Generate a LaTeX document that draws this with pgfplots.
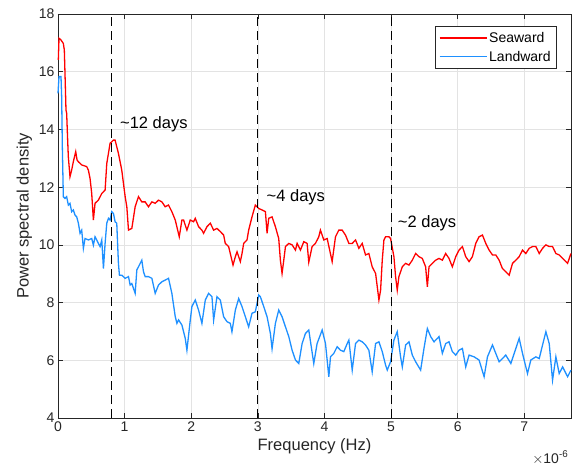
\documentclass[border=0pt]{standalone}
\usepackage{fontspec}
\setmainfont{Liberation Sans}
\usepackage{pgfplots}
\pgfplotsset{compat=1.18}
\definecolor{seaward}{RGB}{255,0,0}
\definecolor{landward}{RGB}{30,144,255}
\definecolor{axgray}{RGB}{38,38,38}

\begin{document}
\begin{tikzpicture}
\path[use as bounding box] (-58pt,-56pt) rectangle (514pt,418pt);
\begin{axis}[
    width=513pt, height=404pt, scale only axis,
    xmin=0, xmax=7.7, ymin=4, ymax=18,
    xtick={0,1,...,7}, ytick={4,6,...,18},
    grid=major,
    major grid style={gray!22, line width=0.6pt},
    axis line style={axgray, line width=0.7pt},
    tick style={axgray, line width=0.7pt},
    tick align=inside, major tick length=5pt,
    tick label style={font=\fontsize{14}{16}\selectfont, text=axgray},
    /pgf/number format/assume math mode=true,
    xlabel={Frequency (Hz)}, ylabel={Power spectral density},
    label style={font=\fontsize{16.5}{18}\selectfont, text=axgray},
    legend style={at={(0.9727,0.9703)}, anchor=north east, draw=axgray,
        line width=0.6pt, font=\fontsize{14}{16}\selectfont, row sep=3pt,
        inner xsep=4pt, inner ysep=4pt},
    legend cell align=left,
    legend image code/.code={\draw[#1] (0pt,0pt) -- (47pt,0pt);},
    clip=false,
]
\addplot[seaward, line width=1.3pt] coordinates {
(0.005,16.41)(0.015,17.16)(0.045,17.10)(0.080,16.98)(0.095,16.75)(0.105,15.94)(0.120,14.67)(0.130,14.56)(0.145,13.63)(0.155,13.05)(0.180,12.36)(0.205,12.59)(0.230,12.88)(0.266,13.23)(0.286,12.94)(0.306,12.88)(0.356,12.77)(0.431,12.71)(0.456,12.59)(0.481,12.30)(0.506,11.78)(0.531,10.86)(0.556,11.44)(0.606,11.55)(0.657,11.78)(0.707,11.90)(0.732,12.82)(0.782,13.52)(0.832,13.63)(0.857,13.63)(0.907,13.17)(0.957,12.59)(1.008,11.67)(1.033,11.32)(1.058,10.51)(1.108,10.57)(1.158,11.32)(1.208,11.67)(1.258,11.49)(1.308,11.49)(1.358,11.32)(1.409,11.49)(1.459,11.44)(1.509,11.55)(1.559,11.49)(1.609,11.32)(1.659,11.38)(1.709,11.15)(1.760,10.86)(1.820,10.28)(1.860,10.86)(1.885,10.86)(1.935,10.51)(1.985,10.86)(2.035,10.80)(2.060,10.92)(2.110,10.63)(2.160,10.51)(2.185,10.40)(2.236,10.63)(2.286,10.75)(2.336,10.51)(2.386,10.57)(2.436,10.46)(2.486,10.34)(2.511,10.05)(2.561,9.94)(2.586,9.70)(2.627,9.30)(2.662,9.59)(2.687,9.76)(2.737,9.42)(2.762,9.70)(2.787,10.05)(2.837,10.17)(2.862,10.51)(2.912,10.97)(2.962,11.38)(3.013,11.26)(3.063,11.21)(3.113,11.15)(3.138,10.40)(3.163,10.92)(3.213,10.97)(3.263,10.63)(3.313,10.22)(3.338,9.47)(3.363,9.01)(3.389,9.47)(3.414,9.94)(3.464,10.05)(3.514,10.00)(3.564,9.82)(3.589,10.05)(3.639,9.82)(3.689,10.11)(3.739,10.05)(3.764,9.40)(3.814,9.94)(3.864,10.05)(3.914,10.28)(3.939,10.51)(3.990,10.17)(4.040,10.22)(4.115,9.42)(4.165,10.28)(4.215,10.51)(4.265,10.51)(4.315,10.34)(4.366,10.05)(4.416,10.05)(4.466,10.17)(4.516,9.88)(4.566,10.05)(4.616,9.65)(4.666,9.70)(4.716,9.24)(4.767,9.01)(4.792,8.55)(4.817,8.09)(4.842,8.43)(4.867,9.47)(4.892,10.17)(4.917,10.28)(4.967,10.28)(4.992,10.22)(5.042,9.59)(5.067,8.90)(5.092,8.43)(5.117,8.90)(5.168,9.24)(5.218,9.36)(5.268,9.30)(5.318,9.47)(5.368,9.70)(5.418,9.59)(5.468,9.53)(5.518,9.24)(5.544,8.55)(5.569,9.24)(5.619,9.36)(5.669,9.47)(5.719,9.53)(5.769,9.47)(5.819,9.70)(5.869,9.53)(5.919,9.24)(5.970,9.59)(6.020,9.82)(6.070,9.94)(6.120,9.59)(6.170,9.42)(6.220,9.59)(6.270,10.05)(6.320,10.28)(6.371,10.34)(6.421,10.05)(6.471,9.82)(6.521,9.65)(6.571,9.65)(6.621,9.47)(6.671,9.18)(6.721,9.07)(6.772,8.95)(6.822,9.36)(6.872,9.47)(6.922,9.59)(6.972,9.82)(7.022,9.70)(7.072,9.88)(7.122,9.94)(7.173,9.94)(7.223,9.70)(7.273,9.88)(7.323,10.00)(7.373,9.94)(7.423,9.94)(7.473,9.70)(7.523,9.65)(7.574,9.53)(7.649,9.36)(7.699,9.70)
};
\addlegendentry{Seaward}
\addplot[landward, line width=1.3pt] coordinates {
(0.000,15.25)(0.015,15.83)(0.045,15.83)(0.055,15.13)(0.065,13.40)(0.080,11.67)(0.105,11.61)(0.130,11.67)(0.155,11.38)(0.180,11.44)(0.205,11.15)(0.230,11.21)(0.256,11.03)(0.281,10.97)(0.306,10.75)(0.331,10.40)(0.356,10.51)(0.381,9.88)(0.406,10.22)(0.456,10.17)(0.506,10.22)(0.531,9.99)(0.556,10.28)(0.581,10.17)(0.606,10.05)(0.632,9.94)(0.657,10.17)(0.682,9.18)(0.707,10.05)(0.732,10.75)(0.757,10.92)(0.782,10.86)(0.807,11.15)(0.832,11.09)(0.857,10.80)(0.882,10.75)(0.907,9.36)(0.922,8.95)(0.957,8.95)(1.008,8.84)(1.058,8.90)(1.083,8.61)(1.108,8.66)(1.158,8.32)(1.183,9.13)(1.208,9.24)(1.258,9.47)(1.283,9.07)(1.308,8.90)(1.358,8.90)(1.409,8.84)(1.459,8.32)(1.509,8.61)(1.559,8.72)(1.609,8.78)(1.659,8.84)(1.709,8.32)(1.760,7.51)(1.785,7.28)(1.810,7.40)(1.860,7.22)(1.910,6.76)(1.935,6.35)(1.985,7.39)(2.010,7.86)(2.060,8.09)(2.110,7.74)(2.160,7.28)(2.211,8.09)(2.261,8.32)(2.311,8.20)(2.336,7.39)(2.386,8.20)(2.436,8.09)(2.486,7.51)(2.536,7.34)(2.586,7.28)(2.611,6.99)(2.662,7.74)(2.712,8.14)(2.762,7.86)(2.812,7.51)(2.862,7.16)(2.912,7.63)(2.962,7.68)(2.987,7.97)(3.013,8.26)(3.038,8.20)(3.088,7.86)(3.138,7.51)(3.188,6.93)(3.213,6.40)(3.263,7.28)(3.313,7.74)(3.363,7.51)(3.414,7.16)(3.464,6.82)(3.514,6.35)(3.564,6.01)(3.614,5.89)(3.664,6.58)(3.714,6.93)(3.764,7.05)(3.839,5.89)(3.889,6.58)(3.965,7.05)(4.015,6.58)(4.065,5.43)(4.090,6.12)(4.140,6.24)(4.190,6.47)(4.240,6.35)(4.290,6.30)(4.341,6.58)(4.366,6.70)(4.416,5.66)(4.466,6.58)(4.516,6.70)(4.566,6.64)(4.616,6.53)(4.666,6.35)(4.716,5.60)(4.767,6.58)(4.817,6.64)(4.867,6.30)(4.917,5.83)(4.942,5.66)(4.992,5.95)(5.042,6.70)(5.092,6.99)(5.142,6.12)(5.168,5.77)(5.218,6.53)(5.268,6.64)(5.318,6.18)(5.368,5.95)(5.443,5.66)(5.493,6.41)(5.544,7.10)(5.594,6.82)(5.644,6.64)(5.719,6.82)(5.769,6.24)(5.819,6.58)(5.869,6.64)(5.919,6.30)(5.970,6.18)(6.020,6.35)(6.070,6.41)(6.120,5.77)(6.170,6.18)(6.245,6.12)(6.320,6.01)(6.396,5.43)(6.446,6.12)(6.521,6.53)(6.571,6.24)(6.621,5.95)(6.671,6.06)(6.721,6.18)(6.797,5.89)(6.872,6.41)(6.922,6.76)(6.972,6.24)(7.047,5.54)(7.097,6.01)(7.173,6.12)(7.223,6.06)(7.273,6.53)(7.323,6.99)(7.373,6.58)(7.423,5.31)(7.473,6.12)(7.523,5.54)(7.574,5.77)(7.649,5.43)(7.699,5.66)
};
\addlegendentry{Landward}
\addplot[black, line width=1pt, dash pattern=on 9pt off 5pt, forget plot] coordinates {(0.81,4) (0.81,18)};
\addplot[black, line width=1pt, dash pattern=on 9pt off 5pt, forget plot] coordinates {(3,4) (3,18)};
\addplot[black, line width=1pt, dash pattern=on 9pt off 5pt, forget plot] coordinates {(5,4) (5,18)};
\node[anchor=west, inner sep=0pt, font=\fontsize{16.5}{18}\selectfont] at (axis cs:0.93,14.19) {\textasciitilde 12 days};
\node[anchor=west, inner sep=0pt, font=\fontsize{16.5}{18}\selectfont] at (axis cs:3.13,11.66) {\textasciitilde 4 days};
\node[anchor=west, inner sep=0pt, font=\fontsize{16.5}{18}\selectfont] at (axis cs:5.10,10.76) {\textasciitilde 2 days};
\node[anchor=base east, inner sep=0pt, text=axgray, font=\fontsize{14}{16}\selectfont] at (rel axis cs:0.995,0) [yshift=-45pt] {$\times$10\textsuperscript{-6}};
\end{axis}
\end{tikzpicture}
\end{document}
